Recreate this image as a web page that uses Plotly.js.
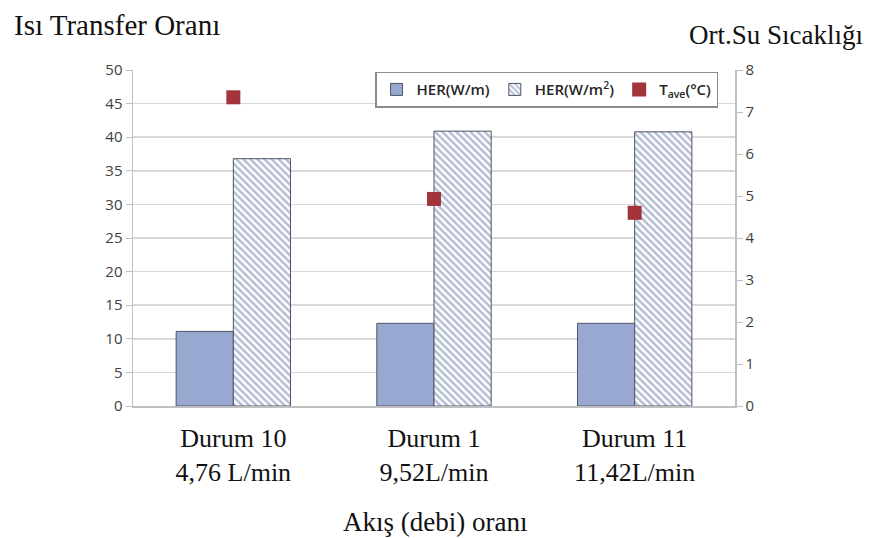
<!DOCTYPE html>
<html>
<head>
<meta charset="utf-8">
<script src="https://cdn.plot.ly/plotly-3.0.1.min.js"></script>
<style>html,body{margin:0;padding:0;background:#fff;}#chart{width:876px;height:538px;}</style>
</head>
<body>
<div id="chart"></div>
<script>
var categories = ["Durum 10<br>4,76 L/min", "Durum 1<br>9,52L/min", "Durum 11<br>11,42L/min"];
var herPerMeter = [11.1, 12.3, 12.3];
var herPerSquareMeter = [36.8, 40.9, 40.8];
var tAve = [7.35, 4.93, 4.6];
var leftTicks = [0, 5, 10, 15, 20, 25, 30, 35, 40, 45, 50];
var rightTicks = [0, 1, 2, 3, 4, 5, 6, 7, 8];

var traces = [
  {
    type: 'bar', name: 'HER(W/m)', x: categories, y: herPerMeter,
    marker: {color: '#98a8d0', line: {color: '#4d5566', width: 1}}
  },
  {
    type: 'bar', name: 'HER(W/m<sup>2</sup>)', x: categories, y: herPerSquareMeter,
    marker: {color: '#ffffff', line: {color: '#4d5566', width: 1},
      pattern: {shape: '\\', fgcolor: '#6a7ba5', bgcolor: '#ffffff', size: 5, solidity: 0.5, fillmode: 'overlay'}}
  },
  {
    type: 'scatter', mode: 'markers', name: 'T<sub>ave</sub>(°C)', x: categories, y: tAve, yaxis: 'y2',
    marker: {symbol: 'square', color: '#a3343b', size: 14}
  }
];

var serif = 'Liberation Serif, Times New Roman, serif';
var sans = 'Open Sans, Liberation Sans, sans-serif';
var layout = {
  width: 876, height: 538,
  margin: {l: 133, r: 141, t: 70, b: 132},
  paper_bgcolor: '#ffffff', plot_bgcolor: '#ffffff',
  barmode: 'group', bargap: 0.43, bargroupgap: 0,
  showlegend: true,
  legend: {orientation: 'h', x: 0.402, y: 0.995, xanchor: 'left', yanchor: 'top',
    bgcolor: '#ffffff', bordercolor: '#8c8c8c', borderwidth: 1.5,
    font: {family: sans, size: 15, color: '#262626', weight: 600},
    traceorder: 'normal', itemwidth: 30},
  xaxis: {
    tickvals: categories, ticktext: categories,
    tickfont: {family: serif, size: 26, color: '#111'},
    showline: true, linecolor: '#bfbfbf', linewidth: 1.5, ticks: '', showgrid: false,
    zeroline: false, fixedrange: true, ticklabelstandoff: 8
  },
  yaxis: {
    range: [0, 50], tickvals: leftTicks,
    tickfont: {family: sans, size: 15, color: '#404040'},
    showline: true, linecolor: '#bfbfbf', linewidth: 1.5, ticks: 'outside', ticklen: 6, tickcolor: '#bfbfbf',
    gridcolor: '#d9d9d9', gridwidth: 1.5, zeroline: false
  },
  yaxis2: {
    range: [0, 8], tickvals: rightTicks, overlaying: 'y', side: 'right',
    tickfont: {family: sans, size: 15, color: '#404040'},
    showline: true, linecolor: '#bfbfbf', linewidth: 1.5, ticks: 'outside', ticklen: 6, tickcolor: '#bfbfbf',
    showgrid: false, zeroline: false
  },
  annotations: [
    {text: 'Isı Transfer Oranı', xref: 'paper', yref: 'paper', x: -0.201, y: 1.134, xanchor: 'left', yanchor: 'middle',
      showarrow: false, font: {family: serif, size: 29, color: '#111'}},
    {text: 'Ort.Su Sıcaklığı', xref: 'paper', yref: 'paper', x: 0.92, y: 1.105, xanchor: 'left', yanchor: 'middle',
      showarrow: false, font: {family: serif, size: 27, color: '#111'}},
    {text: 'Akış (debi) oranı', xref: 'paper', yref: 'paper', x: 0.502, y: -0.345, xanchor: 'center', yanchor: 'middle',
      showarrow: false, font: {family: serif, size: 27, color: '#111'}}
  ]
};

Plotly.newPlot('chart', traces, layout, {displayModeBar: false, staticPlot: true});
</script>
</body>
</html>
